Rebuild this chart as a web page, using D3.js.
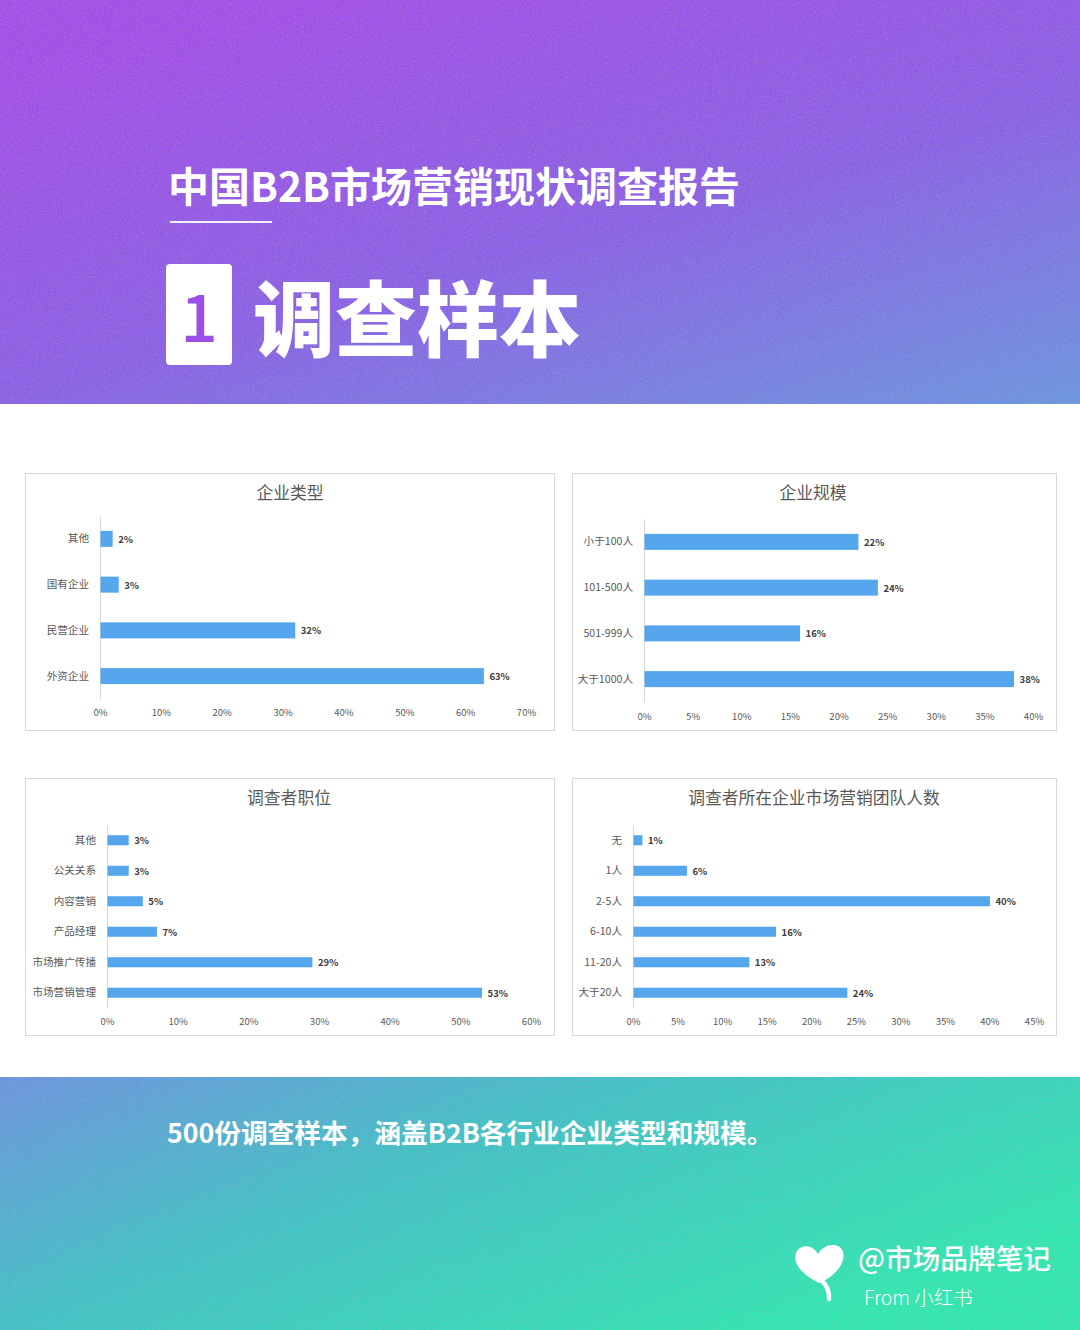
<!DOCTYPE html>
<html>
<head>
<meta charset="utf-8">
<script src="https://cdn.jsdelivr.net/npm/d3@7/dist/d3.min.js"></script>
<style>
  html, body { margin: 0; padding: 0; background: #ffffff; }
  svg { display: block; }
  text { font-family: "Noto Sans CJK SC", "Noto Sans", sans-serif; }
</style>
</head>
<body>
<script>
// ---------- data ----------
const reportTitle = "中国B2B市场营销现状调查报告";
const sectionNumber = "1";
const sectionTitle = "调查样本";
const footerText = "500份调查样本，涵盖B2B各行业企业类型和规模。";
const brandName = "@市场品牌笔记";
const brandFrom = "From 小红书";

const chart1Title = "企业类型";
const chart1Categories = ["其他", "国有企业", "民营企业", "外资企业"];
const chart1Values = [2, 3, 32, 63];
const chart1Ticks = [0, 10, 20, 30, 40, 50, 60, 70];

const chart2Title = "企业规模";
const chart2Categories = ["小于100人", "101-500人", "501-999人", "大于1000人"];
const chart2Values = [22, 24, 16, 38];
const chart2Ticks = [0, 5, 10, 15, 20, 25, 30, 35, 40];

const chart3Title = "调查者职位";
const chart3Categories = ["其他", "公关关系", "内容营销", "产品经理", "市场推广传播", "市场营销管理"];
const chart3Values = [3, 3, 5, 7, 29, 53];
const chart3Ticks = [0, 10, 20, 30, 40, 50, 60];

const chart4Title = "调查者所在企业市场营销团队人数";
const chart4Categories = ["无", "1人", "2-5人", "6-10人", "11-20人", "大于20人"];
const chart4Values = [1, 6, 40, 16, 13, 24];
const chart4Ticks = [0, 5, 10, 15, 20, 25, 30, 35, 40, 45];

// ---------- drawing ----------
const W = 1080, H = 1330;
const svg = d3.select("body").append("svg").attr("width", W).attr("height", H);
const defs = svg.append("defs");

const hg = defs.append("linearGradient").attr("id", "hdrGrad")
  .attr("x1", "0.25").attr("y1", "0").attr("x2", "1").attr("y2", "1");
hg.append("stop").attr("offset", "0").attr("stop-color", "#a24ce8");
hg.append("stop").attr("offset", "0.5").attr("stop-color", "#8a5ee6");
hg.append("stop").attr("offset", "1").attr("stop-color", "#6a94e0");

const fg = defs.append("linearGradient").attr("id", "ftrGrad")
  .attr("x1", "0").attr("y1", "0").attr("x2", "1").attr("y2", "0.6");
fg.append("stop").attr("offset", "0").attr("stop-color", "#6a94e0");
fg.append("stop").attr("offset", "0.42").attr("stop-color", "#40c0c6");
fg.append("stop").attr("offset", "1").attr("stop-color", "#2ee8b0");

const nf = defs.append("filter").attr("id", "noise").attr("x", 0).attr("y", 0).attr("width", "100%").attr("height", "100%");
nf.append("feTurbulence").attr("type", "fractalNoise").attr("baseFrequency", 0.9).attr("numOctaves", 2).attr("seed", 3).attr("result", "t");
nf.append("feColorMatrix").attr("type", "matrix")
  .attr("values", "0 0 0 0 0.5  0 0 0 0 0.5  0 0 0 0 0.5  1.2 0 0 0 -0.45");

// header
svg.append("rect").attr("x", 0).attr("y", 0).attr("width", W).attr("height", 404).attr("fill", "url(#hdrGrad)");
svg.append("rect").attr("x", 0).attr("y", 0).attr("width", W).attr("height", 404).attr("filter", "url(#noise)").attr("opacity", 0.5);

// footer
svg.append("rect").attr("x", 0).attr("y", 1077).attr("width", W).attr("height", H - 1077).attr("fill", "url(#ftrGrad)");
svg.append("rect").attr("x", 0).attr("y", 1077).attr("width", W).attr("height", H - 1077).attr("filter", "url(#noise)").attr("opacity", 0.5);

// header texts
svg.append("text").attr("x", 168).attr("y", 184).attr("dominant-baseline", "central")
  .attr("fill", "#ffffff").attr("font-size", 41).attr("font-weight", 700)
  .text(reportTitle);
svg.append("rect").attr("x", 170).attr("y", 221).attr("width", 102).attr("height", 2).attr("fill", "#ffffff").attr("opacity", 0.9);
svg.append("rect").attr("x", 166).attr("y", 264).attr("width", 66).attr("height", 101).attr("rx", 4).attr("fill", "#ffffff");
svg.append("text").attr("x", 199).attr("y", 313).attr("text-anchor", "middle").attr("dominant-baseline", "central")
  .attr("fill", "#9a50e6").attr("font-size", 66).attr("font-weight", 500).text(sectionNumber);
svg.append("text").attr("x", 253).attr("y", 314).attr("dominant-baseline", "central")
  .attr("fill", "#ffffff").attr("font-size", 82).attr("font-weight", 900).text(sectionTitle);

// footer texts
svg.append("text").attr("x", 167).attr("y", 1131).attr("dominant-baseline", "central")
  .attr("fill", "#ffffff").attr("font-size", 26.7).attr("font-weight", 700).text(footerText);
svg.append("path")
  .attr("d", "M819 1283 C803 1275 792 1264 796 1253 C800 1244 812 1244 818 1254 C823 1244 840 1241 843 1252 C846 1264 834 1277 819 1283 Z")
  .attr("fill", "#ffffff");
svg.append("path").attr("d", "M821 1280 Q830 1288 829 1299")
  .attr("fill", "none").attr("stroke", "#ffffff").attr("stroke-width", 4.5).attr("stroke-linecap", "round");
svg.append("text").attr("x", 858).attr("y", 1257).attr("dominant-baseline", "central")
  .attr("fill", "#ffffff").attr("font-size", 27.7).attr("font-weight", 500).text(brandName);
svg.append("text").attr("x", 864).attr("y", 1296).attr("dominant-baseline", "central")
  .attr("fill", "#ffffff").attr("font-size", 19.5).attr("font-weight", 300).text(brandFrom);

// charts
const barColor = "#56a6ee";
const textColor = "#595959";

function drawChart(cfg) {
  const g = svg.append("g");
  g.append("rect").attr("x", cfg.box[0] + 0.5).attr("y", cfg.box[1] + 0.5)
    .attr("width", cfg.box[2]).attr("height", cfg.box[3])
    .attr("fill", "#ffffff").attr("stroke", "#d9d9d9").attr("stroke-width", 1);
  g.append("text").attr("x", cfg.titleX).attr("y", cfg.box[1] + 19)
    .attr("text-anchor", "middle").attr("dominant-baseline", "central")
    .attr("fill", textColor).attr("font-size", 16.8).text(cfg.title);

  const x = d3.scaleLinear().domain([0, cfg.ticks[cfg.ticks.length - 1]]).range(cfg.xRange);
  const y = d3.scaleBand().domain(cfg.categories).range(cfg.yRange)
    .paddingInner(cfg.pad).paddingOuter(cfg.pad / 2);

  const xa = g.append("g").attr("transform", `translate(0,${cfg.tickY})`)
    .call(d3.axisBottom(x).tickValues(cfg.ticks).tickSize(0).tickPadding(0).tickFormat(d => d + "%"));
  xa.select(".domain").remove();
  xa.selectAll("text").attr("dominant-baseline", "central").attr("dy", null)
    .attr("fill", textColor).attr("font-size", 9.5)
    .style("font-family", '"Noto Sans CJK SC", sans-serif');

  const ya = g.append("g").attr("transform", `translate(${cfg.xRange[0]},0)`)
    .call(d3.axisLeft(y).tickSize(0).tickPadding(11));
  ya.select(".domain").attr("stroke", "#d9d9d9");
  ya.selectAll("text").attr("fill", textColor).attr("font-size", 10.6)
    .style("font-family", '"Noto Sans CJK SC", sans-serif');

  const rows = cfg.categories.map((c, i) => ({ c, v: cfg.values[i] }));
  g.selectAll("rect.bar").data(rows).join("rect").attr("class", "bar")
    .attr("x", x(0) + 0.5).attr("y", d => y(d.c))
    .attr("width", d => x(d.v) - x(0)).attr("height", y.bandwidth())
    .attr("fill", barColor);
  g.selectAll("text.val").data(rows).join("text").attr("class", "val")
    .attr("x", d => x(d.v) + 6).attr("y", d => y(d.c) + y.bandwidth() / 2)
    .attr("dominant-baseline", "central")
    .attr("fill", "#404040").attr("font-size", 9.5).attr("font-weight", 600)
    .text(d => d.v + "%");
}

drawChart({ box: [25, 473, 529, 257], title: chart1Title, titleX: 290,
  categories: chart1Categories, values: chart1Values, ticks: chart1Ticks,
  xRange: [100, 526], yRange: [516, 699], pad: 0.65, tickY: 712 });
drawChart({ box: [572, 473, 484, 257], title: chart2Title, titleX: 813,
  categories: chart2Categories, values: chart2Values, ticks: chart2Ticks,
  xRange: [644, 1033], yRange: [519, 702], pad: 0.65, tickY: 716 });
drawChart({ box: [25, 778, 529, 257], title: chart3Title, titleX: 289,
  categories: chart3Categories, values: chart3Values, ticks: chart3Ticks,
  xRange: [107, 531], yRange: [825, 1008], pad: 0.67, tickY: 1021 });
drawChart({ box: [572, 778, 484, 257], title: chart4Title, titleX: 814,
  categories: chart4Categories, values: chart4Values, ticks: chart4Ticks,
  xRange: [633, 1034], yRange: [825, 1008], pad: 0.67, tickY: 1021 });
</script>
</body>
</html>
